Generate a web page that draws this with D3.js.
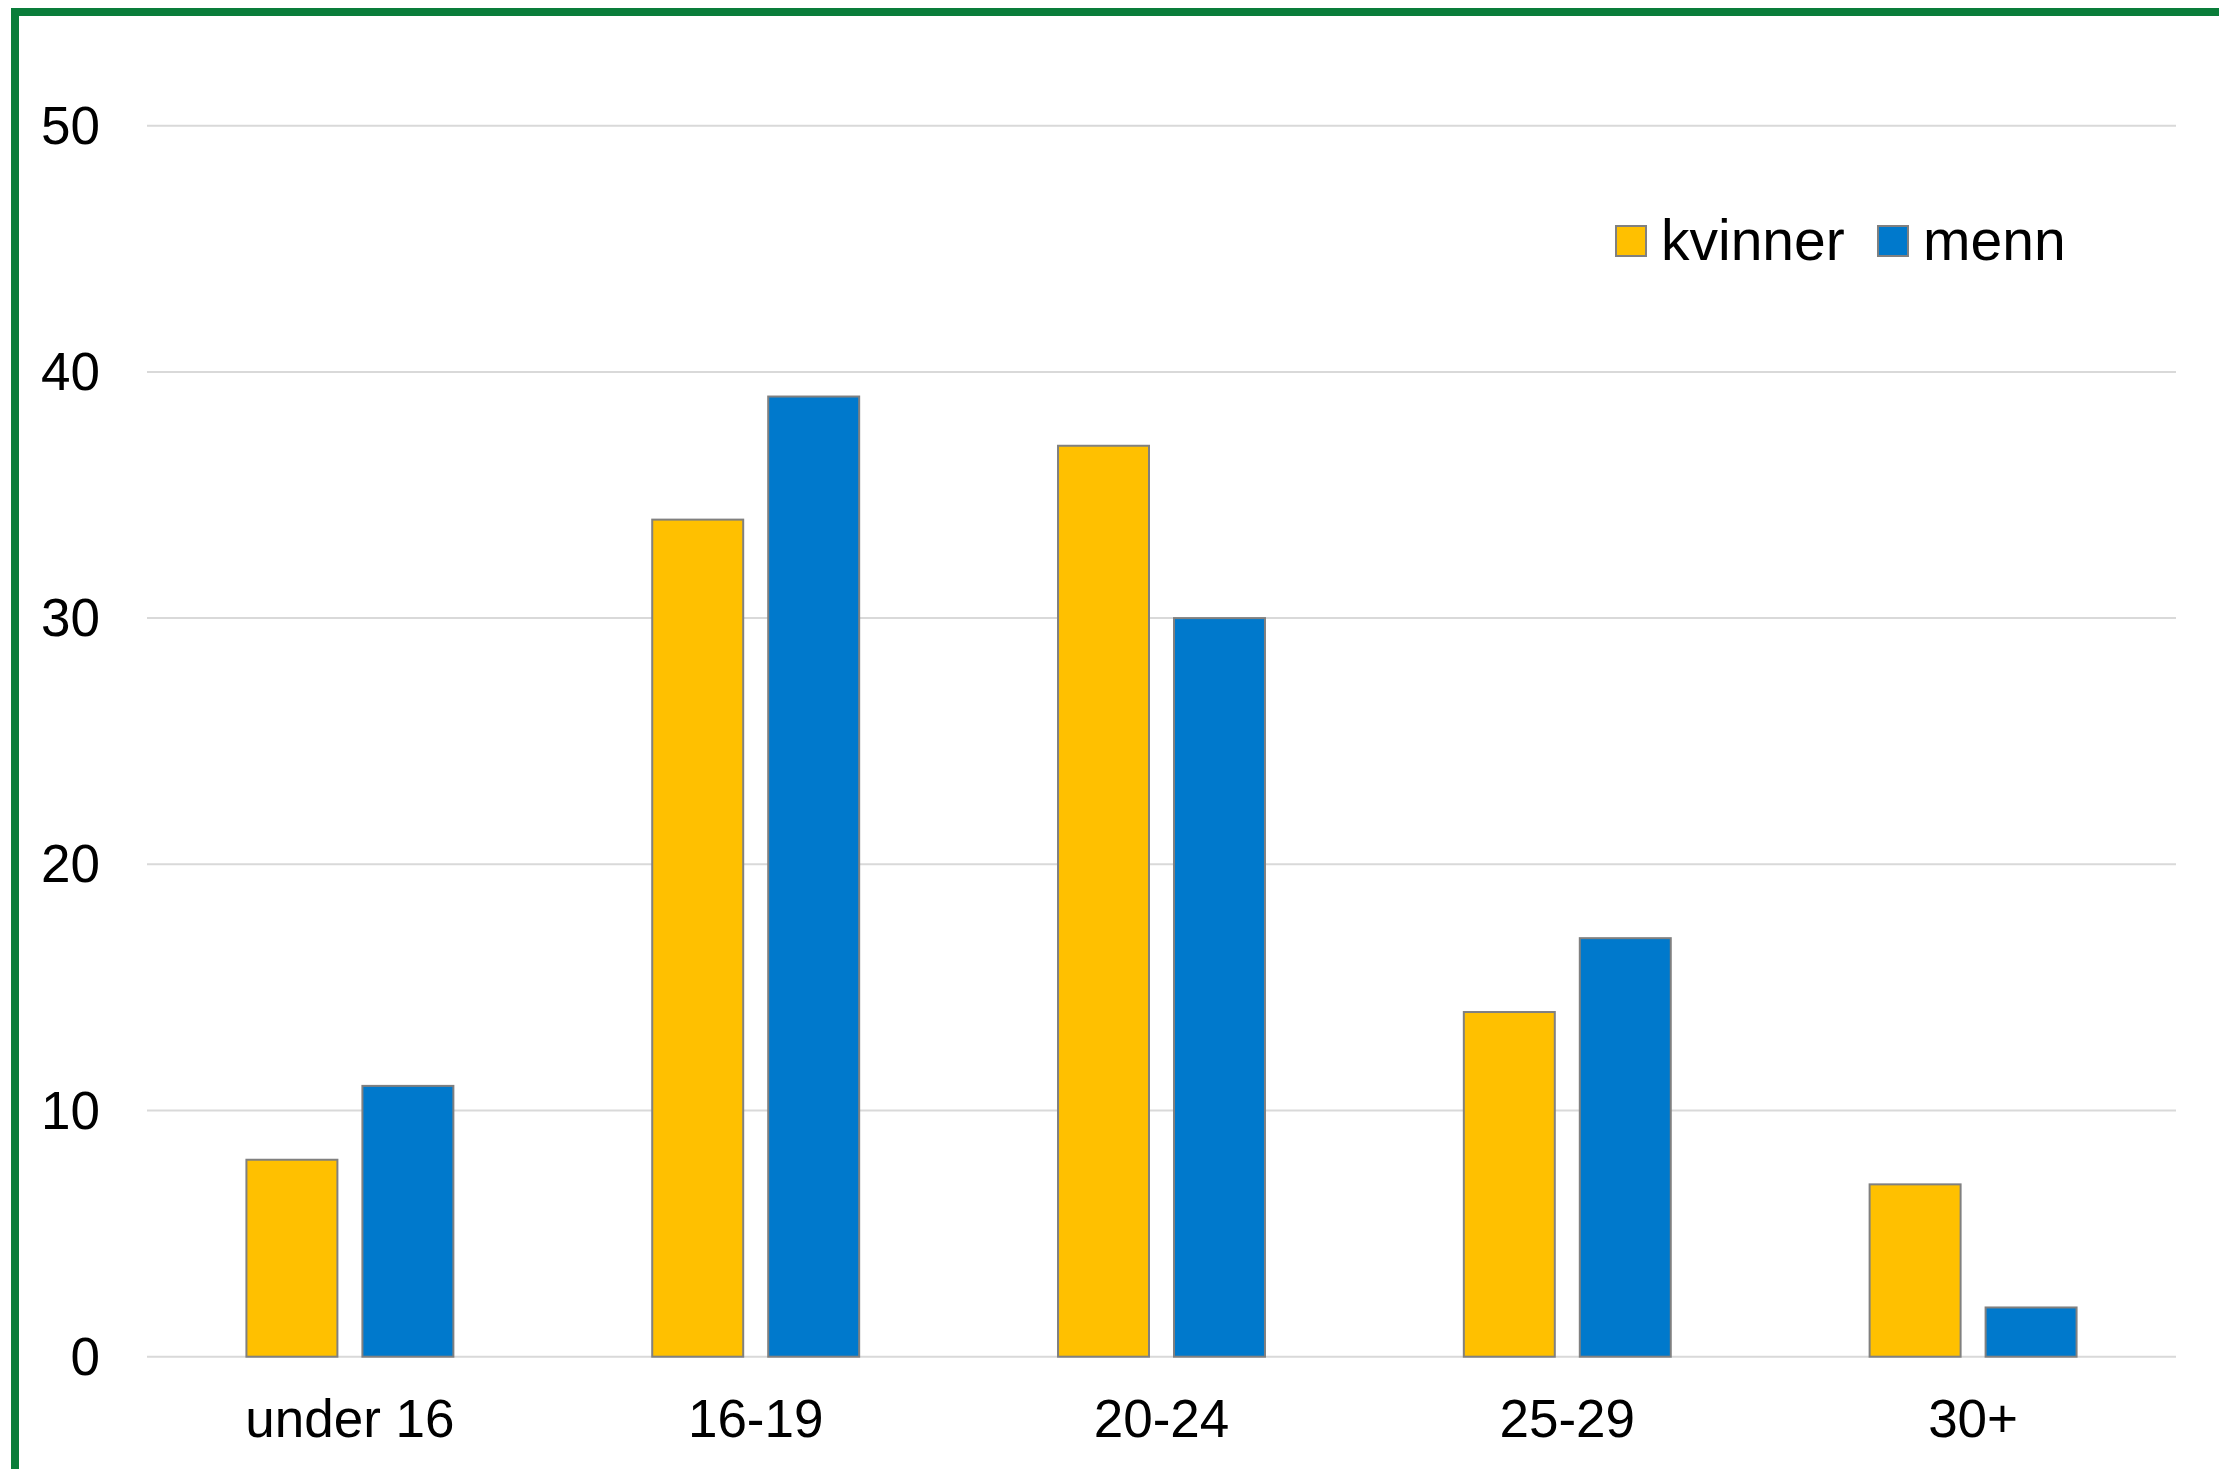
<!DOCTYPE html>
<html>
<head>
<meta charset="utf-8">
<script src="https://cdn.jsdelivr.net/npm/d3@7"></script>
<style>
  html, body { margin: 0; padding: 0; background: #fff; }
  svg { display: block; font-family: "Liberation Sans", Arial, sans-serif; }
</style>
</head>
<body>
<div id="chart"></div>
<script>
const categories = ['under 16', '16-19', '20-24', '25-29', '30+'];
const seriesNames = ['kvinner', 'menn'];
const kvinner = [8, 34, 37, 14, 7];
const menn = [11, 39, 30, 17, 2];
const yTicks = [0, 10, 20, 30, 40, 50];

const colors = {
  kvinner: '#FFC000',
  menn: '#0079CC',
  barStroke: '#808080',
  grid: '#D9D9D9',
  border: '#0A7D3A',
  text: '#000'
};

const width = 2219, height = 1469;
const plot = { left: 147, right: 2176, top: 125.7, bottom: 1356.7 };

const svg = d3.select('#chart').append('svg')
  .attr('width', width).attr('height', height)
  .attr('viewBox', `0 0 ${width} ${height}`);

svg.append('rect').attr('width', width).attr('height', height).attr('fill', '#fff');

// green frame (only top + left visible, the rest runs off the image)
svg.append('rect')
  .attr('x', 15).attr('y', 12)
  .attr('width', width + 20).attr('height', height + 20)
  .attr('fill', 'none')
  .attr('stroke', colors.border)
  .attr('stroke-width', 8);

const x0 = d3.scaleBand().domain(categories).range([plot.left, plot.right]);
const bw = x0.bandwidth();
const x1 = d3.scaleBand().domain(seriesNames)
  .range([bw * 0.245, bw * 0.755])
  .paddingInner(0.2155);
const y = d3.scaleLinear().domain([0, 50]).range([plot.bottom, plot.top]);

// gridlines
svg.append('g').selectAll('line').data(yTicks).join('line')
  .attr('x1', plot.left).attr('x2', plot.right)
  .attr('y1', d => y(d)).attr('y2', d => y(d))
  .attr('stroke', colors.grid).attr('stroke-width', 2);

// y labels
svg.append('g').selectAll('text').data(yTicks).join('text')
  .attr('x', 100).attr('y', d => y(d)).attr('dy', '0.34em')
  .attr('text-anchor', 'end')
  .attr('font-size', '53px').attr('fill', colors.text)
  .text(d => d);

// bars
const rows = categories.map((c, i) => ({ cat: c, values: [
  { key: 'kvinner', value: kvinner[i] },
  { key: 'menn', value: menn[i] }
]}));

const groups = svg.append('g').selectAll('g').data(rows).join('g')
  .attr('transform', d => `translate(${x0(d.cat)},0)`);

groups.selectAll('rect').data(d => d.values).join('rect')
  .attr('x', d => x1(d.key))
  .attr('y', d => y(d.value))
  .attr('width', x1.bandwidth())
  .attr('height', d => y(0) - y(d.value))
  .attr('fill', d => colors[d.key])
  .attr('stroke', colors.barStroke)
  .attr('stroke-width', 2);

// x labels
svg.append('g').selectAll('text').data(categories).join('text')
  .attr('x', d => x0(d) + bw / 2).attr('y', 1437)
  .attr('text-anchor', 'middle')
  .attr('font-size', '53px').attr('fill', colors.text)
  .text(d => d);

// legend
const legendItems = [
  { key: 'kvinner', sx: 1616, tx: 1661 },
  { key: 'menn', sx: 1878, tx: 1923 }
];
const legend = svg.append('g');
legend.selectAll('rect').data(legendItems).join('rect')
  .attr('x', d => d.sx).attr('y', 226)
  .attr('width', 30).attr('height', 30)
  .attr('fill', d => colors[d.key])
  .attr('stroke', colors.barStroke).attr('stroke-width', 2);
legend.selectAll('text').data(legendItems).join('text')
  .attr('x', d => d.tx).attr('y', 260)
  .attr('font-size', '57px').attr('fill', colors.text)
  .text(d => d.key);
</script>
</body>
</html>
